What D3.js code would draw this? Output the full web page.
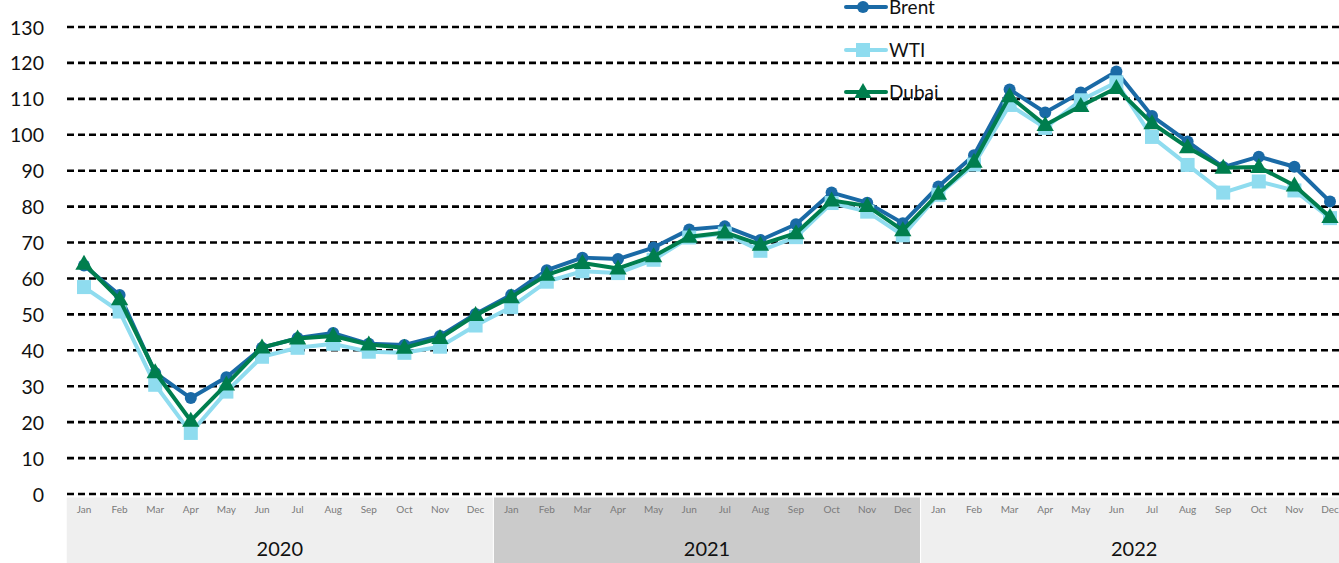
<!DOCTYPE html>
<html>
<head>
<meta charset="utf-8">
<script src="https://cdn.jsdelivr.net/npm/d3@7"></script>
<style>
  html, body { margin: 0; padding: 0; background: #fff; }
  svg { display: block; font-family: Lato, "Open Sans", sans-serif; }
</style>
</head>
<body>
<svg id="chart" width="1339" height="563"></svg>
<script>
// Monthly crude prices, USD per barrel, Jan 2020 – Dec 2022
const years = ["2020", "2021", "2022"];
const months = ["Jan", "Feb", "Mar", "Apr", "May", "Jun", "Jul", "Aug", "Sep", "Oct", "Nov", "Dec"];
const yTicks = [0, 10, 20, 30, 40, 50, 60, 70, 80, 90, 100, 110, 120, 130];

const brent = [63.6, 55.4, 33.7, 26.7, 32.5, 40.7, 43.4, 44.8, 41.8, 41.5, 44.0, 50.1,
               55.4, 62.3, 65.8, 65.4, 68.6, 73.6, 74.5, 70.7, 75.1, 83.9, 81.1, 75.4,
               85.6, 94.3, 112.6, 106.2, 111.8, 117.6, 105.2, 98.1, 91.0, 93.9, 91.1, 81.4];
const wti   = [57.6, 50.8, 30.4, 17.0, 28.5, 38.2, 40.7, 41.8, 39.6, 39.3, 41.0, 46.9,
               52.0, 59.1, 62.0, 61.5, 65.2, 71.4, 72.5, 67.7, 71.5, 81.0, 78.6, 72.0,
               83.3, 91.7, 108.3, 101.9, 109.6, 114.6, 99.4, 91.6, 83.9, 87.0, 84.5, 76.8];
const dubai = [64.1, 54.2, 33.9, 20.4, 30.5, 40.8, 43.3, 44.0, 41.6, 40.7, 43.4, 49.8,
               54.8, 61.0, 64.3, 62.8, 66.2, 71.6, 72.8, 69.4, 72.6, 81.7, 80.2, 73.4,
               83.6, 92.5, 110.7, 102.7, 108.0, 113.0, 103.2, 96.5, 90.8, 91.0, 85.9, 77.1];

const seriesList = [
  { name: "Brent", values: brent, color: "#1a6aa6", marker: "circle" },
  { name: "WTI",   values: wti,   color: "#8fdcef", marker: "square" },
  { name: "Dubai", values: dubai, color: "#007e4e", marker: "triangle" }
];

const svg = d3.select("#chart");
const W = 1339, H = 563;

const periods = [];
years.forEach(y => months.forEach(m => periods.push(y + "-" + m)));

const x = d3.scalePoint().domain(periods).range([84, 1330]);
const step = x.step();
const y = d3.scaleLinear().domain([0, 130]).range([494, 27]);

// Horizontal dashed gridlines
svg.append("g").selectAll("line").data(yTicks).join("line")
  .attr("x1", 67).attr("x2", W)
  .attr("y1", d => y(d)).attr("y2", d => y(d))
  .attr("stroke", "#000").attr("stroke-width", 2.6)
  .attr("stroke-dasharray", "7,4");

// Y axis labels
const yAxis = d3.axisLeft(y).tickValues(yTicks).tickSize(0).tickPadding(0);
const gy = svg.append("g").attr("transform", "translate(44,0)").call(yAxis);
gy.select(".domain").remove();
gy.selectAll("text").attr("font-size", 19.5).attr("fill", "#111")
  .attr("font-family", "Lato, 'Open Sans', sans-serif").attr("dy", "0.36em");

// Category bands under the plot: month row + year row
const bandTop = 497;
const yearFill = { "2020": "#efefef", "2021": "#cbcbcb", "2022": "#efefef" };
const gb = svg.append("g");
years.forEach(yr => {
  const first = x(yr + "-Jan") - step / 2;
  const last = x(yr + "-Dec") + step / 2;
  gb.append("rect")
    .attr("x", first).attr("y", bandTop)
    .attr("width", last - first).attr("height", H - bandTop + 2)
    .attr("fill", yearFill[yr]).attr("stroke", "#fff").attr("stroke-width", 1);
  gb.append("text")
    .attr("x", (first + last) / 2).attr("y", 549)
    .attr("text-anchor", "middle").attr("dy", "0.36em")
    .attr("font-size", 20).attr("fill", "#111")
    .text(yr);
});
gb.selectAll("text.month").data(periods).join("text")
  .attr("class", "month")
  .attr("x", d => x(d)).attr("y", 509)
  .attr("text-anchor", "middle").attr("dy", "0.36em")
  .attr("font-size", 10).attr("fill", "#7a7a7a")
  .text(d => d.split("-")[1]);

// Markers
function drawMarker(g, type, color, cx, cy) {
  if (type === "circle") {
    g.append("circle").attr("cx", cx).attr("cy", cy).attr("r", 6).attr("fill", color);
  } else if (type === "square") {
    g.append("rect").attr("x", cx - 7).attr("y", cy - 7).attr("width", 14).attr("height", 14).attr("fill", color);
  } else {
    const s = d3.symbol().type(d3.symbolTriangle).size(130);
    g.append("path").attr("d", s()).attr("transform", `translate(${cx},${cy + 1})`).attr("fill", color);
  }
}

const line = d3.line().x((d, i) => x(periods[i])).y(d => y(d));

seriesList.forEach(s => {
  const g = svg.append("g");
  g.append("path").datum(s.values)
    .attr("d", line).attr("fill", "none")
    .attr("stroke", s.color).attr("stroke-width", 4).attr("stroke-linejoin", "round");
  s.values.forEach((v, i) => drawMarker(g, s.marker, s.color, x(periods[i]), y(v)));
});

// Legend
const legendY = [7, 50, 92];
seriesList.forEach((s, i) => {
  const g = svg.append("g");
  g.append("line").attr("x1", 846).attr("x2", 886)
    .attr("y1", legendY[i]).attr("y2", legendY[i])
    .attr("stroke", s.color).attr("stroke-width", 4).attr("stroke-linecap", "round");
  drawMarker(g, s.marker, s.color, 863, legendY[i]);
  g.append("text").attr("x", 889).attr("y", legendY[i]).attr("dy", "0.36em")
    .attr("font-size", 19).attr("fill", "#111").text(s.name);
});
</script>
</body>
</html>
